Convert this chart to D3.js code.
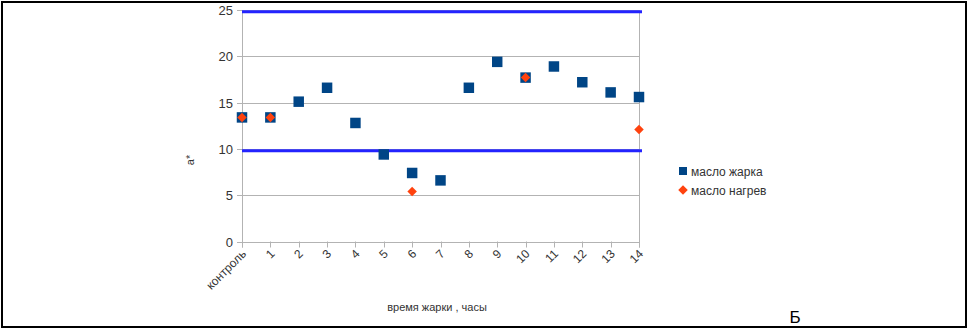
<!DOCTYPE html>
<html>
<head>
<meta charset="utf-8">
<script src="https://cdnjs.cloudflare.com/ajax/libs/d3/7.8.5/d3.min.js"></script>
<style>
  body { margin: 0; background: #fff; }
  text { font-family: "Liberation Sans", Arial, sans-serif; }
</style>
</head>
<body>
<div id="chart"></div>
<script>
var categories = ["контроль", "1", "2", "3", "4", "5", "6", "7", "8", "9", "10", "11", "12", "13", "14"];
var fryValues = [13.4, 13.4, 15.1, 16.6, 12.8, 9.4, 7.4, 6.6, 16.6, 19.4, 17.7, 18.9, 17.2, 16.1, 15.6];
var heatValues = [13.4, 13.4, null, null, null, null, 5.4, null, null, null, 17.7, null, null, null, 12.1];
var limitValues = [24.8, 9.8];
var yTicks = [0, 5, 10, 15, 20, 25];
var seriesNames = ["масло жарка", "масло нагрев"];

var width = 974, height = 331;
var svg = d3.select('#chart')
  .append('svg')
  .attr('width', width)
  .attr('height', height);

// outer frame
svg.append('rect')
  .attr('x', 2).attr('y', 2)
  .attr('width', 964).attr('height', 325)
  .attr('fill', 'none')
  .attr('stroke', '#000')
  .attr('stroke-width', 2);

var x = d3.scalePoint()
  .domain(categories)
  .range([242, 639])
  .padding(0);

var y = d3.scaleLinear()
  .domain([0, 25])
  .range([241.5, 10]);

// gridlines
svg.selectAll('.grid')
  .data(yTicks)
  .enter()
  .append('line')
  .attr('x1', 237).attr('x2', 639)
  .attr('y1', function(d) { return Math.round(y(d)) + 0.5; })
  .attr('y2', function(d) { return Math.round(y(d)) + 0.5; })
  .attr('stroke', '#b3b3b3');

// plot area right edge + y axis line
svg.append('line')
  .attr('x1', 639.5).attr('x2', 639.5)
  .attr('y1', y(25)).attr('y2', y(0) + 6)
  .attr('stroke', '#b3b3b3');
svg.append('line')
  .attr('x1', 242.5).attr('x2', 242.5)
  .attr('y1', y(25)).attr('y2', y(0) + 6)
  .attr('stroke', '#b3b3b3');

// x ticks
svg.selectAll('.xtick')
  .data(categories)
  .enter()
  .append('line')
  .attr('x1', function(d) { return Math.round(x(d)) + 0.5; })
  .attr('x2', function(d) { return Math.round(x(d)) + 0.5; })
  .attr('y1', y(0)).attr('y2', y(0) + 6)
  .attr('stroke', '#b3b3b3');

// y tick labels
svg.selectAll('.ylabel')
  .data(yTicks)
  .enter()
  .append('text')
  .attr('x', 233)
  .attr('y', function(d) { return y(d) + 5; })
  .attr('text-anchor', 'end')
  .attr('font-size', 13)
  .attr('fill', '#333')
  .text(function(d) { return d; });

// x tick labels, rotated
svg.selectAll('.xlabel')
  .data(categories)
  .enter()
  .append('text')
  .attr('text-anchor', 'end')
  .attr('font-size', 12)
  .attr('fill', '#333')
  .attr('transform', function(d) {
    return 'translate(' + (x(d) + 5) + ',' + (y(0) + 13) + ') rotate(-45)';
  })
  .text(function(d) { return d; });

// limit lines
svg.selectAll('.limit')
  .data(limitValues)
  .enter()
  .append('line')
  .attr('x1', 242).attr('x2', 642)
  .attr('y1', function(d) { return y(d); })
  .attr('y2', function(d) { return y(d); })
  .attr('stroke', '#2323ff')
  .attr('stroke-width', 3);

var square = d3.symbol().type(d3.symbolSquare).size(110);
var diamond = d3.symbol().type(d3.symbolSquare).size(45);

svg.selectAll('.fry')
  .data(fryValues)
  .enter()
  .append('path')
  .attr('d', square)
  .attr('fill', '#004586')
  .attr('transform', function(d, i) {
    return 'translate(' + x(categories[i]) + ',' + y(d) + ')';
  });

svg.selectAll('.heat')
  .data(heatValues.map(function(v, i) { return {c: categories[i], v: v}; })
    .filter(function(d) { return d.v !== null; }))
  .enter()
  .append('path')
  .attr('d', diamond)
  .attr('fill', '#ff420e')
  .attr('transform', function(d) {
    return 'translate(' + x(d.c) + ',' + y(d.v) + ') rotate(45)';
  });

// axis titles
svg.append('text')
  .attr('x', 437).attr('y', 311)
  .attr('text-anchor', 'middle')
  .attr('font-size', 11)
  .attr('fill', '#333')
  .text('время жарки , часы');

svg.append('text')
  .attr('transform', 'translate(194,160) rotate(-90)')
  .attr('text-anchor', 'middle')
  .attr('font-size', 11)
  .attr('fill', '#333')
  .text('a*');

// legend
var legend = svg.selectAll('.legend')
  .data(seriesNames)
  .enter()
  .append('g')
  .attr('transform', function(d, i) {
    return 'translate(683,' + (171 + i * 19) + ')';
  });

legend.append('path')
  .attr('d', function(d, i) {
    return i === 0 ? d3.symbol().type(d3.symbolSquare).size(64)() : diamond();
  })
  .attr('transform', function(d, i) { return i === 0 ? null : 'rotate(45)'; })
  .attr('fill', function(d, i) { return i === 0 ? '#004586' : '#ff420e'; });

legend.append('text')
  .attr('x', 8)
  .attr('y', 4.5)
  .attr('font-size', 12)
  .attr('fill', '#333')
  .text(function(d) { return d; });

svg.append('text')
  .attr('x', 795).attr('y', 323)
  .attr('text-anchor', 'middle')
  .attr('font-family', 'DejaVu Sans')
  .attr('font-size', 17)
  .attr('fill', '#000')
  .text('Б');
</script>
</body>
</html>
